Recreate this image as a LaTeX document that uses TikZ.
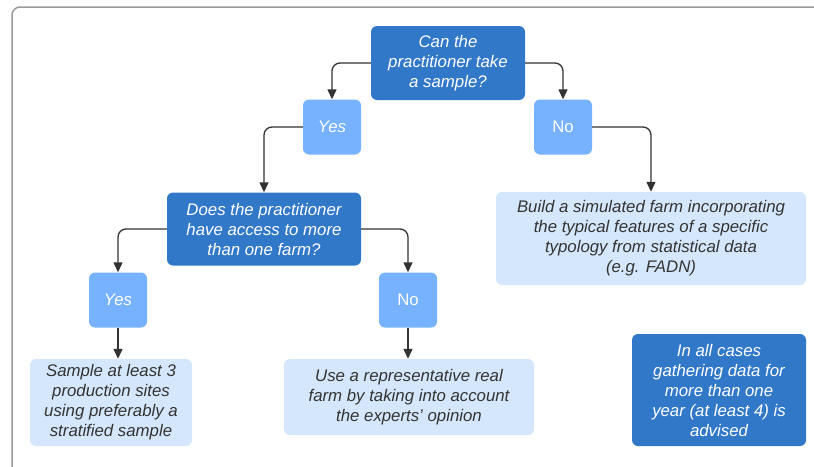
\documentclass[tikz,border=0pt]{standalone}
\usepackage{fontspec}
\setmainfont{Liberation Sans}
\usetikzlibrary{arrows.meta}
\definecolor{darkbox}{HTML}{3278C9}
\definecolor{answer}{HTML}{76B2FF}
\definecolor{lightbox}{HTML}{D5E7FD}
\definecolor{txtdark}{HTML}{333333}
\definecolor{conn}{HTML}{333333}
\definecolor{frame}{HTML}{9A9A9A}
\begin{document}
\begin{tikzpicture}[x=1pt,y=-1pt,
  base/.style={rounded corners=6pt, align=center, inner sep=0pt,
    font=\fontsize{16.8}{20}\selectfont\itshape},
  question/.style={base, fill=darkbox, text=white},
  answerbox/.style={base, fill=answer, text=white, minimum width=58pt, minimum height=55pt},
  outcome/.style={base, fill=lightbox, text=txtdark},
  link/.style={draw=conn, line width=1.3pt, rounded corners=8pt,
    -{Triangle[length=10pt,width=9pt]}}]
\useasboundingbox (0,0) rectangle (814,466);
\begin{scope}
\clip (0,0) rectangle (814,466);
\draw[frame, line width=1.5pt, rounded corners=8pt] (12,480) -- (12,7) -- (830,7);
\end{scope}

\node[question, minimum width=154pt, minimum height=74pt] (q1) at (448,63)
  {Can the\\practitioner take\\a sample?};
\node[answerbox] (yes1) at (332,127) {Yes};
\node[answerbox] (no1) at (563,127) {\upshape No};
\node[question, minimum width=194pt, minimum height=73pt] (q2) at (264,229)
  {Does the practitioner\\have access to more\\than one farm?};
\node[outcome, minimum width=310pt, minimum height=93pt] (build) at (651,238.5)
  {Build a simulated farm incorporating\\the typical features of a specific\\typology from statistical data\\(e.g. FADN)};
\node[answerbox] (yes2) at (118,300) {Yes};
\node[answerbox] (no2) at (408,300) {\upshape No};
\node[outcome, minimum width=162pt, minimum height=87pt] (sample) at (111,402.5)
  {Sample at least 3\\production sites\\using preferably a\\stratified sample};
\node[outcome, minimum width=250pt, minimum height=76pt] (use) at (409,397)
  {Use a representative real\\farm by taking into account\\the experts' opinion};
\node[question, minimum width=174pt, minimum height=112pt] (note) at (719,390)
  {In all cases\\gathering data for\\more than one\\year (at least 4) is\\advised};

\draw[link] (q1.west) -| (yes1.north);
\draw[link] (q1.east) -| (no1.north);
\draw[link] (yes1.west) -| (q2.north);
\draw[link] (no1.east) -| (build.north);
\draw[link] (q2.west) -| (yes2.north);
\draw[link] (q2.east) -| (no2.north);
\draw[link] (yes2.south) -- (yes2.south |- sample.north);
\draw[link] (no2.south) -- (no2.south |- use.north);
\end{tikzpicture}
\end{document}
